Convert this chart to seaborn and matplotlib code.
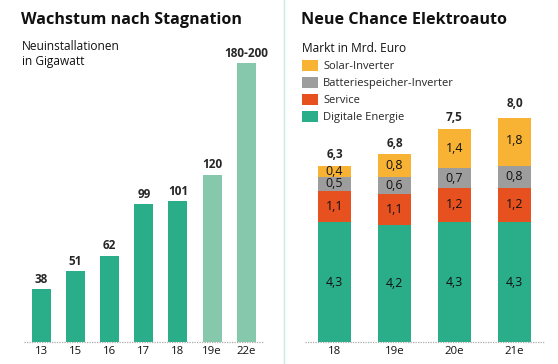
import matplotlib
matplotlib.use("Agg")
import matplotlib.pyplot as plt
from matplotlib.patches import Patch
from matplotlib.lines import Line2D
import seaborn as sns
import pandas as pd

# left chart: new installations in gigawatt
years_left = ["13", "15", "16", "17", "18", "19e", "22e"]
gw_values = [38, 51, 62, 99, 101, 120, 200]
gw_labels = ["38", "51", "62", "99", "101", "120", "180-200"]
gw_estimate = [False, False, False, False, False, True, True]

# right chart: market in bn euro (stacked)
years_right = ["18", "19e", "20e", "21e"]
digitale = [4.3, 4.2, 4.3, 4.3]
service = [1.1, 1.1, 1.2, 1.2]
batterie = [0.5, 0.6, 0.7, 0.8]
solar = [0.4, 0.8, 1.4, 1.8]
totals = ["6,3", "6,8", "7,5", "8,0"]

GREEN = "#2aae8a"
LIGHT_GREEN = "#86c8ac"
RED = "#e6511f"
GREY = "#9d9d9d"
YELLOW = "#f8b334"

sns.set_theme(style="white")
plt.rcParams["font.family"] = ["Open Sans", "DejaVu Sans"]

fig = plt.figure(figsize=(5.58, 3.64), dpi=100)
W, H = 558, 364


def px_axes(x0, x1, ytop, ybase):
    return fig.add_axes([x0 / W, (H - ybase) / H, (x1 - x0) / W, (ybase - ytop) / H])


# ---- left panel
ax1 = px_axes(23.9, 263.6, 63.3, 342.3)
df1 = pd.DataFrame({"year": years_left, "gw": gw_values,
                    "kind": ["e" if e else "i" for e in gw_estimate]})
sns.barplot(data=df1, x="year", y="gw", hue="kind", palette={"i": GREEN, "e": LIGHT_GREEN},
            dodge=False, width=0.555, legend=False, ax=ax1, saturation=1, linewidth=0)
for i, (v, lab) in enumerate(zip(gw_values, gw_labels)):
    ax1.annotate(lab, (i, v), xytext=(0, 2.5), textcoords="offset points",
                 ha="center", va="bottom", fontsize=8.5, fontweight="bold", annotation_clip=False)
ax1.set_ylim(0, 200)
ax1.set_xlim(-0.5, 6.5)

# ---- right panel
ax2 = px_axes(304.5, 544.5, 118, 342.3)
layers = [("Solar-Inverter", YELLOW, solar), ("Batteriespeicher-Inverter", GREY, batterie),
          ("Service", RED, service), ("Digitale Energie", GREEN, digitale)]
stack = [digitale, service, batterie, solar]
cums = []
run = [0.0] * 4
for s in stack:
    run = [a + b for a, b in zip(run, s)]
    cums.append(run)
# draw tallest first so lower segments overlay
for (name, col, vals), top in zip(layers, cums[::-1]):
    sns.barplot(x=years_right, y=top, color=col, width=0.545, ax=ax2, saturation=1, linewidth=0)
bottoms = [0.0] * 4
for s in stack:
    for i, v in enumerate(s):
        ax2.text(i, bottoms[i] + v / 2, f"{v:.1f}".replace(".", ","), ha="center", va="center",
                 fontsize=8.9, color="#111111")
    bottoms = [a + b for a, b in zip(bottoms, s)]
for i, t in enumerate(totals):
    ax2.annotate(t, (i, cums[-1][i]), xytext=(0, 3.5), textcoords="offset points",
                 ha="center", va="bottom", fontsize=8.5, fontweight="bold", annotation_clip=False)
ax2.set_ylim(0, 8.0)
ax2.set_xlim(-0.5, 3.5)

for ax in (ax1, ax2):
    for sp in ax.spines.values():
        sp.set_visible(False)
    ax.set_yticks([])
    ax.set_xlabel("")
    ax.set_ylabel("")
    ax.tick_params(axis="x", length=0, pad=2.5, labelsize=8.2, colors="#111111")
    ax.axhline(0, color="#aaaaaa", lw=0.9, ls=(0, (1, 1)), clip_on=False, zorder=5)
    ax.patch.set_alpha(0)

# titles
fig.text(21 / W, 1 - 20.5 / H, "Wachstum nach Stagnation", fontsize=11.6, fontweight="bold",
         va="center", ha="left", color="#111111")
fig.text(22 / W, 1 - 54.5 / H, "Neuinstallationen\nin Gigawatt", fontsize=8.6, va="center",
         ha="left", linespacing=1.2, color="#111111")
fig.text(301 / W, 1 - 20.5 / H, "Neue Chance Elektroauto", fontsize=11.6, fontweight="bold",
         va="center", ha="left", color="#111111")
fig.text(302 / W, 1 - 48 / H, "Markt in Mrd. Euro", fontsize=8.6, va="center", ha="left",
         color="#111111")

handles = [Patch(facecolor=c, edgecolor="none", label=n) for n, c, _ in layers]
fig.legend(handles=handles, loc="upper left", bbox_to_anchor=(301.5 / W, 1 - 60 / H),
           frameon=False, fontsize=8.0, handlelength=1.44, handleheight=1.08,
           labelspacing=0.45, handletextpad=0.5, borderpad=0, borderaxespad=0)

fig.add_artist(Line2D([284 / W, 284 / W], [0, 1], color="#c5ecdf", lw=1))

fig.savefig("out.png", dpi=100)
